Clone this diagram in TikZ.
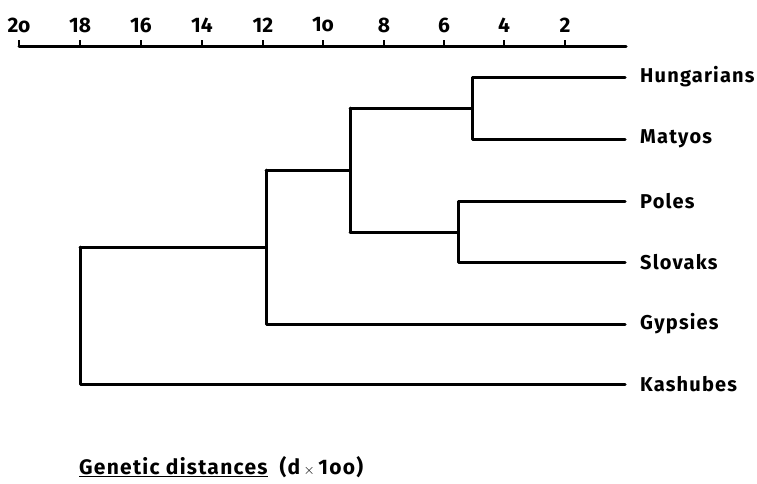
\documentclass[tikz,border=0pt]{standalone}
\usepackage{fontspec}
\setmainfont{Fira Sans}
\newfontfamily\leaffont[LetterSpace=6]{Fira Sans}
\begin{document}
\begin{tikzpicture}[x=1pt,y=-1pt,
  br/.style={line width=3pt,line cap=round,line join=round},
  leaf/.style={anchor=west,inner sep=0pt,font=\leaffont\fontsize{20}{20}\selectfont\bfseries},
  num/.style={inner sep=0pt,font=\fontsize{21}{21}\selectfont\bfseries},
  pt/.style={inner sep=0pt,minimum size=0pt}]
\useasboundingbox (0,0) rectangle (757,483);
% axis
\coordinate (a0) at (19,46);
\coordinate (a1) at (626,46);
\draw[br] (a0) -- (a1);
\foreach \v/\x in {20/19,18/80,16/141,14/202,12/263,10/323,8/384,6/444,4/504,2/565}{
  \coordinate (t\v) at (\x,46);
  \draw[line width=2.4pt] (t\v) -- ++(0,-6);
}
\foreach \v/\lab in {20/2o,18/18,16/16,14/14,12/12,10/1o,8/8,6/6,4/4,2/2}{
  \node[num] (n\v) at ([yshift=21pt]t\v) {\lab};
}
% leaves
\node[leaf] (hu) at (640,77) {Hungarians};
\node[leaf] (ma) at (640,139) {Matyos};
\node[leaf] (po) at (640,201) {Poles};
\node[leaf] (sl) at (640,262) {Slovaks};
\node[leaf] (gy) at (640,324) {Gypsies};
\node[leaf] (ka) at (640,384) {Kashubes};
% internal nodes
\coordinate (hm) at (472,108);
\coordinate (ps) at (458,232);
\coordinate (hmps) at (350,170);
\coordinate (g) at (266,247);
\coordinate (r) at (80,316);
\draw[br] ([xshift=-15pt]hu.west) -| (hm) |- ([xshift=-15pt]ma.west);
\draw[br] ([xshift=-15pt]po.west) -| (ps) |- ([xshift=-15pt]sl.west);
\draw[br] (hm) -- (hm -| hmps);
\draw[br] (ps) -- (ps -| hmps);
\draw[br] (hm -| hmps) -- (ps -| hmps);
\draw[br] (hmps) -- (hmps -| g);
\draw[br] (hmps -| g) -- (gy.west -| g) -- ([xshift=-15pt]gy.west);
\draw[br] (g) -- (g -| r);
\draw[br] (g -| r) -- (ka.west -| r) -- ([xshift=-15pt]ka.west);
% caption
\node[anchor=base west,inner sep=0pt,font=\leaffont\fontsize{21}{21}\selectfont\bfseries] (cap) at (79,474)
  {\underline{Genetic distances}\hspace{12pt}(d\,{\fontsize{15}{15}\selectfont$\times$}\,1oo)};
\end{tikzpicture}
\end{document}
